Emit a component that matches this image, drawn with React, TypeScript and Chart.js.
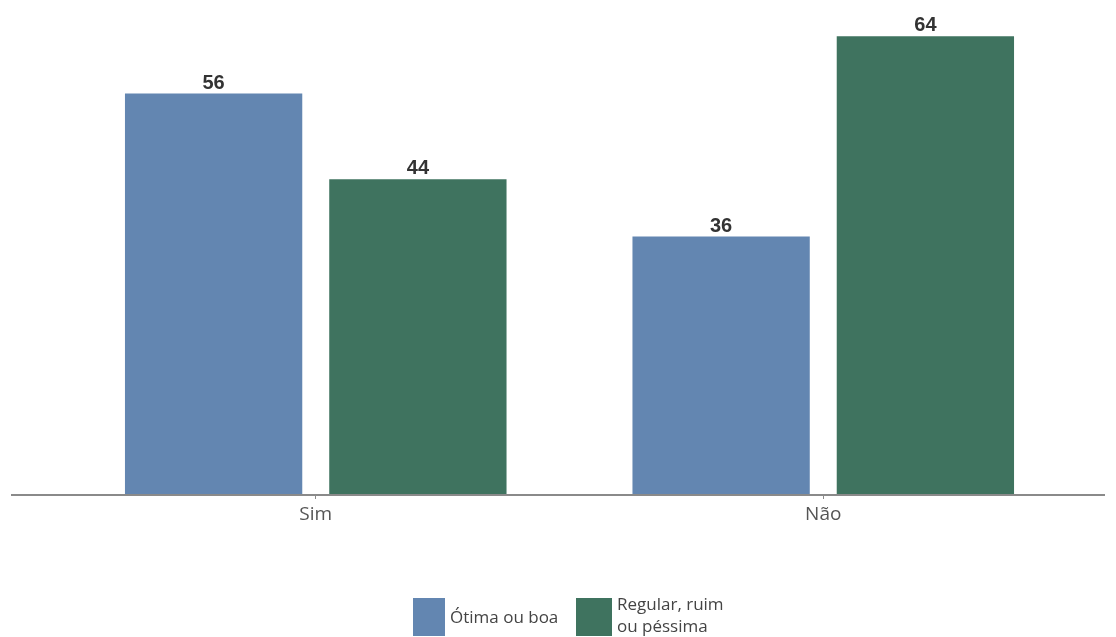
import React, { useEffect, useRef } from "react";
import { Chart, registerables } from "chart.js";

Chart.register(...registerables);

const categories = ["Sim", "Não"];
const seriesNames = ["Ótima ou boa", "Regular, ruim ou péssima"];
const otimaValues = [56, 36];
const regularValues = [44, 64];
const colors = ["#6386b1", "#3f735f"];

const valueLabels = {
  id: "valueLabels",
  afterDatasetsDraw(chart: any) {
    const ctx = chart.ctx;
    ctx.save();
    ctx.font = "bold 20px 'Liberation Sans', Arial, sans-serif";
    ctx.fillStyle = "#333333";
    ctx.textAlign = "center";
    ctx.textBaseline = "alphabetic";
    chart.data.datasets.forEach((ds: any, i: number) => {
      const meta = chart.getDatasetMeta(i);
      meta.data.forEach((bar: any, j: number) => {
        ctx.fillText(String(ds.data[j]), bar.x, bar.y - 5);
      });
    });
    ctx.restore();
  },
};

const axisLine = {
  id: "axisLine",
  afterDatasetsDraw(chart: any) {
    const ctx = chart.ctx;
    const y = chart.scales.y.getPixelForValue(0);
    ctx.save();
    ctx.strokeStyle = "#8a8a8a";
    ctx.lineWidth = 2;
    ctx.beginPath();
    ctx.moveTo(11, y + 1);
    ctx.lineTo(1105, y + 1);
    ctx.stroke();
    ctx.restore();
  },
};

export default function App() {
  const ref = useRef<HTMLCanvasElement>(null);
  useEffect(() => {
    const chart = new Chart(ref.current!, {
      type: "bar",
      data: {
        labels: categories,
        datasets: [
          { label: seriesNames[0], data: otimaValues, backgroundColor: colors[0] },
          { label: seriesNames[1], data: regularValues, backgroundColor: colors[1] },
        ],
      },
      options: {
        animation: false,
        responsive: false,
        maintainAspectRatio: false,
        layout: { padding: { left: 62, right: 39, top: 22, bottom: 0 } },
        datasets: { bar: { categoryPercentage: 0.805, barPercentage: 0.868 } },
        plugins: { legend: { display: false }, tooltip: { enabled: false } },
        scales: {
          x: {
            grid: { display: true, drawOnChartArea: false, offset: false, tickLength: 5, color: "#8a8a8a" },
            border: { display: false },
            ticks: { font: { family: "'Open Sans', sans-serif", size: 19 }, color: "#555555", padding: 4 },
            afterFit: (s: any) => { s.height = 143; },
          } as any,
          y: { display: false, min: 0, max: 66 },
        },
      },
      plugins: [valueLabels, axisLine],
    });
    return () => chart.destroy();
  }, []);

  const legendText: React.CSSProperties = {
    fontFamily: "'Open Sans', sans-serif",
    fontSize: 17,
    color: "#444",
    lineHeight: "22px",
    position: "absolute",
  };

  return (
    <div style={{ position: "fixed", left: 0, top: 0, width: 1116, height: 637, background: "#fff" }}>
      <canvas ref={ref} width={1116} height={637} style={{ display: "block" }} />
      <div style={{ position: "absolute", left: 413, top: 598, width: 32, height: 38, background: colors[0] }} />
      <div style={{ ...legendText, left: 450, top: 606 }}>{seriesNames[0]}</div>
      <div style={{ position: "absolute", left: 576, top: 598, width: 36, height: 38, background: colors[1] }} />
      <div style={{ ...legendText, left: 617, top: 593, whiteSpace: "pre" }}>{"Regular, ruim\nou péssima"}</div>
    </div>
  );
}
